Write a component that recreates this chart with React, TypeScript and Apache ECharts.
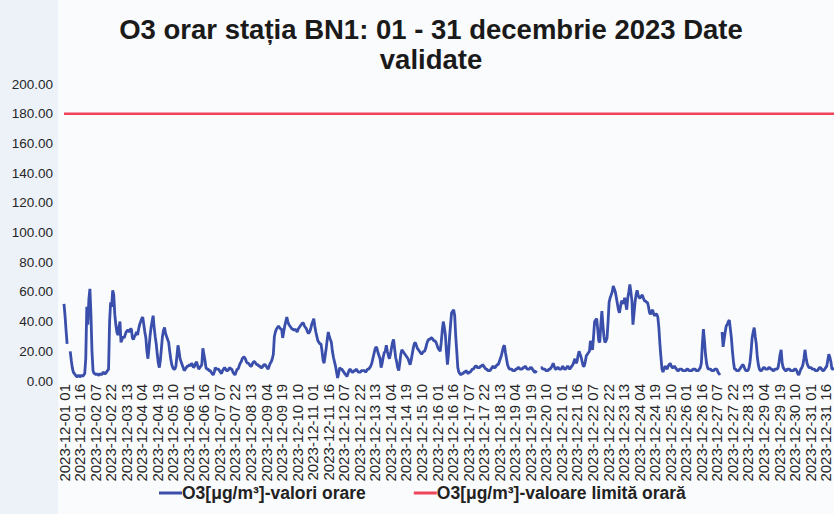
import React, { useEffect, useRef } from "react";
import * as echarts from "echarts";

const TITLE = "O3 orar stația BN1: 01 - 31 decembrie 2023 Date\nvalidate";
const SERIES_NAME = "O3[μg/m³]-valori orare";
const LIMIT_NAME = "O3[μg/m³]-valoare limită orară";
const LIMIT = 180;
const Y_TICKS = [0, 20, 40, 60, 80, 100, 120, 140, 160, 180, 200];

const DAYS = Array.from({ length: 31 }, (_, i) => String(i + 1).padStart(2, "0"));
const HOURS = Array.from({ length: 24 }, (_, i) => String(i + 1).padStart(2, "0"));
const categories: string[] = [];
DAYS.forEach((d) => HOURS.forEach((h) => categories.push(`2023-12-${d} ${h}`)));

const day01 = [52, 44, 34, 25, null, null, 20, 14, 9, 6, 5, 4, 3, 3, 4, 3, 3, 4, 3, 4, 5, 15, 50, 38];
const day02 = [55, 62, 45, 20, 7, 5, 5, 4, 5, 4, 4, 5, 4, 5, 6, 5, 5, 6, 7, 8, 40, 53, 50, 61];
const day03 = [58, 45, 38, 33, 31, 36, 40, 26, 28, 30, 29, 31, 33, 34, 34, 33, 35, 35, 29, 28, 30, 31, 33, 31];
const day04 = [35, 38, 40, 42, 43, 38, 33, 29, 20, 15, 22, 30, 36, 40, 44, 36, 30, 25, 18, 12, 9, 14, 22, 30];
const day05 = [34, 36, 32, 30, 28, 26, 20, 15, 11, 9, 8, 8, 10, 17, 24, 20, 15, 13, 11, 9, 7, 8, 9, 10];
const day06 = [10, 11, 10, 12, 11, 9, 10, 12, 13, 10, 8, 9, 10, 11, 22, 18, 14, 9, 8, 8, 7, 7, 6, 5];
const day07 = [4, 6, 9, 8, 8, 8, 7, 6, 5, 7, 8, 9, 8, 7, 7, 8, 9, 8, 8, 6, 5, 4, 6, 8];
const day08 = [8, 10, 12, 13, 15, 16, 16, 15, 13, 12, 12, 11, 10, 10, 12, 13, 13, 12, 11, 11, 10, 10, 9, 9];
const day09 = [10, 11, 11, 10, 9, 8, 10, 12, 13, 15, 18, 30, 33, 35, 36, 37, 36, 35, 35, 29, 33, 37, 40, 43];
const day10 = [40, 38, 37, 36, 35, 35, 34, 35, 34, 33, 35, 36, 37, 38, 39, 39, 37, 36, 35, 33, 32, 33, 35, 38];
const day11 = [40, 42, 37, 33, 30, 27, 26, 25, 25, 20, 14, 12, 17, 22, 28, 33, 30, 28, 26, 20, 16, 13, 10, 6];
const day12 = [2, 5, 9, 8, 8, 7, 6, 5, 4, 3, 5, 7, 8, 7, 6, 6, 7, 7, 8, 7, 6, 6, 6, 7];
const day13 = [7, 7, 7, 6, 7, 8, 8, 9, 10, 12, 15, 18, 21, 23, 22, 19, 17, 15, 9, 12, 16, 19, 20, 24];
const day14 = [20, 17, 15, 18, 22, 26, 28, 22, 16, 13, 9, 7, 12, 18, 21, 20, 19, 18, 17, 16, 15, 13, 11, 14];
const day15 = [18, 22, 25, 26, 24, 22, 21, 20, 19, 18, 19, 20, 20, 22, 25, 27, 28, 28, 29, 29, 28, 27, 27, 26];
const day16 = [24, 22, 21, 20, 26, 34, 40, 36, 31, 20, 11, 18, 29, 38, 46, 47, 48, 44, 30, 20, 9, 6, 5, 4];
const day17 = [5, 5, 6, 6, 7, 6, 5, 6, 6, 7, 8, 8, 9, 10, 10, 9, 9, 9, 10, 10, 11, 10, 9, 8];
const day18 = [8, 7, 7, 7, 8, 9, 10, 9, 9, 10, 11, 11, 13, 15, 17, 20, 23, 24, 19, 15, 11, 9, 8, 8];
const day19 = [8, 7, 7, 7, 8, 8, 9, 9, 8, 8, 8, 9, 9, 10, 9, 8, 8, 8, 9, 9, 8, 7, 6, 6];
const day20 = [7, null, null, null, 9, 9, 8, 8, 8, 7, 7, 7, 8, 8, 9, 10, 12, 10, 8, 8, 9, 9, 8, 8];
const day21 = [8, 10, 9, 8, 8, 9, 10, 9, 8, 9, 10, 11, 13, 15, 12, 13, 17, 20, 18, 16, 13, 10, 10, 13];
const day22 = [17, 18, 19, 20, 27, 24, 21, 30, 40, 41, 42, 35, 27, 26, 38, 47, 38, 30, 26, 27, 29, 40, 53, 56];
const day23 = [58, 60, 64, 62, 60, 56, 52, 48, 46, 50, 54, 53, 52, 56, 52, 48, 56, 60, 65, 60, 54, 38, 45, 53];
const day24 = [58, 61, 58, 56, 56, 57, 58, 56, 54, 54, 53, 53, 50, 46, 45, 47, 48, 45, 44, 45, 45, 43, 36, 25];
const day25 = [16, 8, 6, 8, 10, 9, 8, 10, 11, 12, 10, 9, 9, 10, 9, 8, 7, 7, 8, 8, 8, 7, 7, 7];
const day26 = [7, 8, 8, 7, 7, 7, 7, 8, 8, 8, 7, 7, 7, 8, 9, 12, 25, 35, 27, 18, 12, 9, 8, 8];
const day27 = [8, 7, 7, 7, 8, 8, 8, 6, 5, 4, null, 33, 23, 28, 33, 37, 38, 40, 41, 35, 29, 20, 13, 8];
const day28 = [8, 7, 7, 7, 8, 9, 10, 11, 10, 8, 7, 7, 7, 9, 13, 20, 29, 33, 36, 30, 25, 16, 11, 8];
const day29 = [7, 7, 8, 9, 9, 8, 8, 8, 9, 9, 8, 8, 7, 7, 8, 8, 8, 9, 13, 18, 21, 12, 9, 8];
const day30 = [7, 7, 8, 8, 8, 7, 7, 7, 7, 8, 8, 7, 5, 4, 6, 8, 9, 11, 15, 21, 16, 12, 10, 9];
const day31 = [9, 9, 8, 8, 8, 7, 7, 7, 8, 9, 9, 8, 7, 7, 8, 9, 10, 14, 18, 16, 13, 8, 8, 9];

const hourlyValues = [
  ...day01, ...day02, ...day03, ...day04, ...day05, ...day06, ...day07, ...day08,
  ...day09, ...day10, ...day11, ...day12, ...day13, ...day14, ...day15, ...day16,
  ...day17, ...day18, ...day19, ...day20, ...day21, ...day22, ...day23, ...day24,
  ...day25, ...day26, ...day27, ...day28, ...day29, ...day30, ...day31,
];
const limitValues = categories.map(() => LIMIT);

const FONT = "'Liberation Sans', Arial, sans-serif";
const BLUE = "#3a4fab";
const RED = "#f2435c";
const TEXT = "#262626";

export default function App() {
  const ref = useRef<HTMLDivElement>(null);
  useEffect(() => {
    if (!ref.current) return;
    const chart = echarts.init(ref.current, undefined, { renderer: "svg" });
    chart.setOption({
      animation: false,
      backgroundColor: "#fafbfc",
      graphic: [
        {
          type: "rect",
          z: -10,
          silent: true,
          shape: { x: 0, y: 0, width: 58, height: 514 },
          style: { fill: "#edf2f9" },
        },
      ],
      title: {
        text: TITLE,
        left: 426,
        top: 9,
        textAlign: "center",
        textStyle: {
          fontFamily: FONT,
          fontSize: 27.5,
          fontWeight: "bold",
          color: "#1a1a1a",
          lineHeight: 30,
        },
      },
      legend: {
        left: 154,
        top: 479,
        itemWidth: 23,
        itemHeight: 3,
        itemGap: 48,
        icon: "rect",
        textStyle: {
          fontFamily: FONT,
          fontSize: 17.5,
          fontWeight: "bold",
          color: "#222",
          padding: [0, 0, 0, -5],
        },
        data: [SERIES_NAME, LIMIT_NAME],
      },
      grid: { left: 64, right: 0, top: 84, bottom: 133, containLabel: false },
      xAxis: {
        type: "category",
        data: categories,
        boundaryGap: false,
        axisLine: { show: false },
        axisTick: { show: false },
        axisLabel: {
          rotate: 90,
          interval: 14,
          fontSize: 15,
          fontFamily: FONT,
          color: TEXT,
          margin: 3,
        },
        splitLine: { show: false },
      },
      yAxis: {
        type: "value",
        min: Y_TICKS[0],
        max: Y_TICKS[Y_TICKS.length - 1],
        interval: Y_TICKS[1] - Y_TICKS[0],
        axisLine: { show: false },
        axisTick: { show: false },
        splitLine: { show: false },
        axisLabel: {
          formatter: (v: number) => v.toFixed(2),
          fontSize: 13.5,
          fontFamily: FONT,
          color: TEXT,
          margin: 11,
        },
      },
      series: [
        {
          name: SERIES_NAME,
          type: "line",
          data: hourlyValues,
          showSymbol: false,
          connectNulls: false,
          lineStyle: { color: BLUE, width: 2.8 },
          itemStyle: { color: BLUE },
        },
        {
          name: LIMIT_NAME,
          type: "line",
          data: limitValues,
          showSymbol: false,
          lineStyle: { color: RED, width: 2.5 },
          itemStyle: { color: RED },
        },
      ],
    });
    return () => chart.dispose();
  }, []);
  return (
    <div
      ref={ref}
      style={{ position: "fixed", left: 0, top: 0, width: 834, height: 514 }}
    />
  );
}
